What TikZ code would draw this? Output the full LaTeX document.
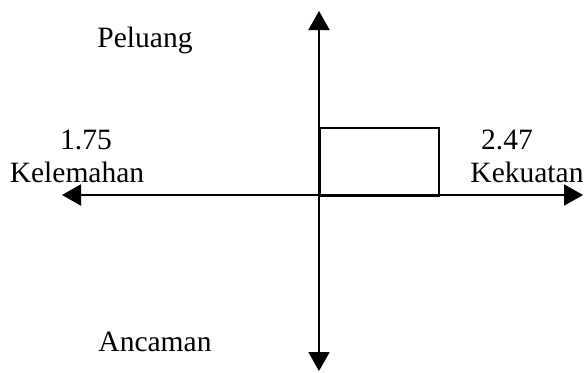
\documentclass[tikz,border=0pt]{standalone}
\usepackage{fontspec}
\setmainfont{Liberation Serif}
\usetikzlibrary{arrows.meta}
\begin{document}
\begin{tikzpicture}[x=1pt,y=-1pt,
  axis/.style={line width=2pt,{Triangle[length=19pt,width=21pt]}-{Triangle[length=19pt,width=21pt]}},
  lbl/.style={anchor=base,inner sep=0pt,font=\fontsize{29.5}{33}\selectfont}]
\useasboundingbox (0,0) rectangle (585,372);
\coordinate (L) at (62,195);
\coordinate (R) at (583,195);
\coordinate (T) at (319,11);
\coordinate (B) at (319,371);
\draw[axis] (L) -- (R);
\draw[axis] (T) -- (B);
\node[draw,line width=2pt,minimum width=119pt,minimum height=68pt,inner sep=0pt,anchor=north west] (box) at (319,127) {};
\node[lbl] (p) at (145,47) {Peluang};
\node[lbl] (a) at (155,351) {Ancaman};
\node[lbl] (w1) at (86,149) {1.75};
\node[lbl] (w2) at (77,182) {Kelemahan};
\node[lbl] (s1) at (507,149) {2.47};
\node[lbl] (s2) at (527,182) {Kekuatan};
\end{tikzpicture}
\end{document}
